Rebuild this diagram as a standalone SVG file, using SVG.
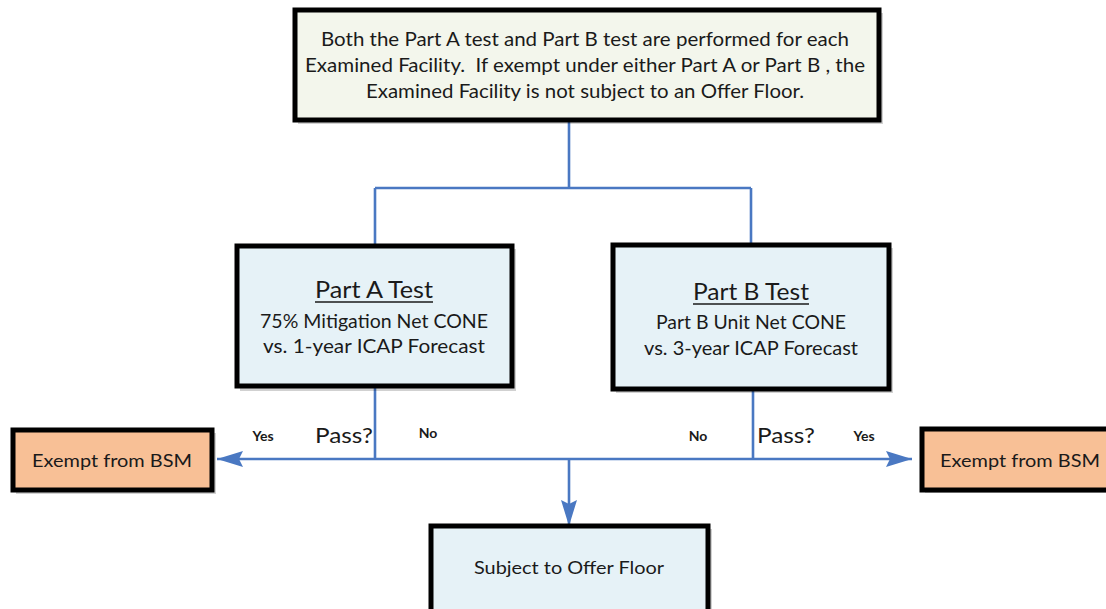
<svg xmlns="http://www.w3.org/2000/svg" width="1106" height="609" viewBox="0 0 1106 609">
<defs>
<style>
.box{stroke:#000;stroke-width:5}
.shadow{fill:#000;opacity:0.18}
.t{font-family:"Lato","Open Sans","Liberation Sans",sans-serif;fill:#1a1a1a;text-anchor:middle}
.conn{fill:none;stroke:#4a78c2;stroke-width:2.6}
</style>
<marker id="arr" viewBox="0 0 26 16" refX="26" refY="8" markerWidth="26" markerHeight="16" markerUnits="userSpaceOnUse" orient="auto">
<path d="M0,0 L26,8 L0,16 L4,8 z" fill="#4a78c2"/>
</marker>
</defs>
<rect width="1106" height="609" fill="#fff"/>

<g id="connectors">
<path class="conn" d="M569,121 V188 M375,188 H751 M375,188 V245 M751,188 V243"/>
<path class="conn" d="M375,388 V459 M753,390 V459"/>
<path class="conn" d="M375,459 H217" marker-end="url(#arr)"/>
<path class="conn" d="M375,459 H912" marker-end="url(#arr)"/>
<path class="conn" d="M569,459 V526" marker-end="url(#arr)"/>
</g>

<g id="top">
<rect class="shadow" x="298" y="13" width="585" height="111"/>
<rect class="box" x="295" y="10" width="584" height="110" fill="#f3f6ec" stroke-width="4"/>
<text class="t" font-size="19" x="585" y="46" textLength="528" lengthAdjust="spacingAndGlyphs">Both the Part A test and Part B test are performed for each</text>
<text class="t" font-size="19" x="585" y="72" textLength="560" lengthAdjust="spacingAndGlyphs">Examined Facility.&#160; If exempt under either Part A or Part B , the</text>
<text class="t" font-size="19" x="585" y="98" textLength="438" lengthAdjust="spacingAndGlyphs">Examined Facility is not subject to an Offer Floor.</text>
</g>

<g id="partA">
<rect class="shadow" x="240" y="249" width="276" height="142"/>
<rect class="box" x="237" y="246" width="275" height="140" fill="#e6f2f7"/>
<text class="t" font-size="23" x="374" y="298" textLength="118" lengthAdjust="spacingAndGlyphs">Part A Test</text>
<line x1="315" y1="302" x2="433" y2="302" stroke="#1a1a1a" stroke-width="1.5"/>
<text class="t" font-size="19" x="374" y="328" textLength="228" lengthAdjust="spacingAndGlyphs">75% Mitigation Net CONE</text>
<text class="t" font-size="19" x="374" y="353" textLength="222" lengthAdjust="spacingAndGlyphs">vs. 1-year ICAP Forecast</text>
</g>

<g id="partB">
<rect class="shadow" x="616" y="248" width="277" height="145"/>
<rect class="box" x="613" y="245" width="276" height="144" fill="#e6f2f7"/>
<text class="t" font-size="23" x="751" y="300" textLength="116" lengthAdjust="spacingAndGlyphs">Part B Test</text>
<line x1="693" y1="304" x2="809" y2="304" stroke="#1a1a1a" stroke-width="1.5"/>
<text class="t" font-size="19" x="751" y="329" textLength="190" lengthAdjust="spacingAndGlyphs">Part B Unit Net CONE</text>
<text class="t" font-size="19" x="751" y="355" textLength="214" lengthAdjust="spacingAndGlyphs">vs. 3-year ICAP Forecast</text>
</g>

<g id="exemptLeft">
<rect class="shadow" x="16" y="433" width="200" height="61"/>
<rect class="box" x="13" y="430" width="199" height="60" fill="#f8c096" stroke-width="4"/>
<text class="t" font-size="18" x="112" y="467" textLength="160" lengthAdjust="spacingAndGlyphs">Exempt from BSM</text>
</g>

<g id="exemptRight">
<rect class="shadow" x="925" y="432" width="200" height="61"/>
<rect class="box" x="922" y="429" width="200" height="61" fill="#f8c096" stroke-width="4"/>
<text class="t" font-size="18" x="1020" y="467" textLength="160" lengthAdjust="spacingAndGlyphs">Exempt from BSM</text>
</g>

<g id="subject">
<rect class="shadow" x="434" y="529" width="278" height="90"/>
<rect class="box" x="431" y="526" width="277" height="90" fill="#e6f2f7"/>
<text class="t" font-size="18" x="569" y="574" textLength="190" lengthAdjust="spacingAndGlyphs">Subject to Offer Floor</text>
</g>

<g id="labels">
<text class="t" font-size="14" x="263" y="441" font-weight="bold">Yes</text>
<text class="t" font-size="21" x="344" y="443" textLength="58" lengthAdjust="spacingAndGlyphs">Pass?</text>
<text class="t" font-size="14" x="428" y="438" font-weight="bold">No</text>
<text class="t" font-size="14" x="698" y="441" font-weight="bold">No</text>
<text class="t" font-size="21" x="786" y="443" textLength="58" lengthAdjust="spacingAndGlyphs">Pass?</text>
<text class="t" font-size="14" x="864" y="441" font-weight="bold">Yes</text>
</g>
</svg>
